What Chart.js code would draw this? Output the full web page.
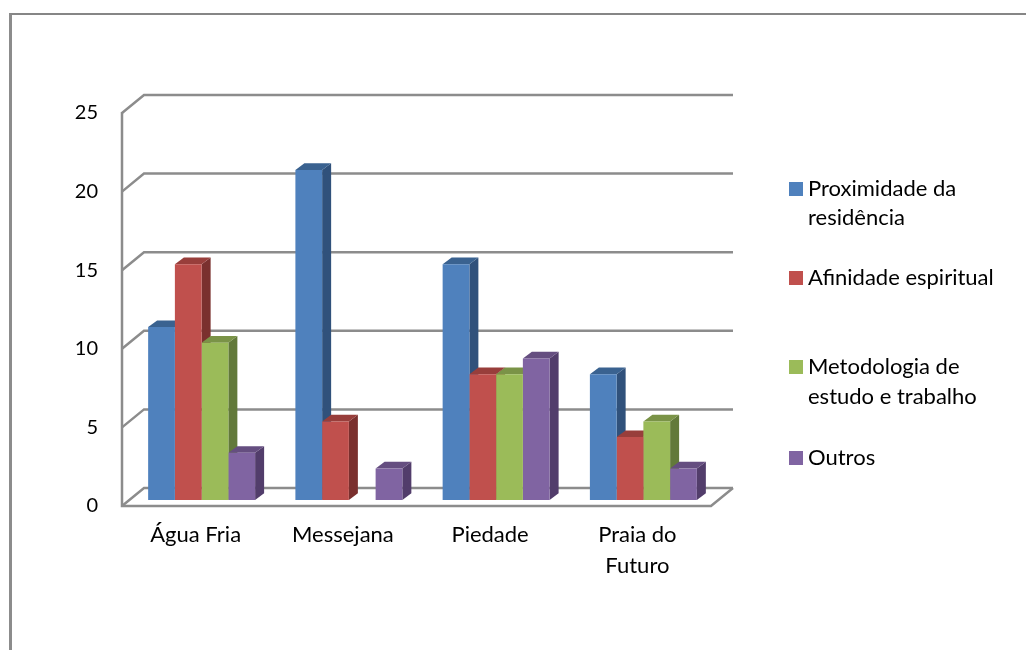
<!DOCTYPE html>
<html>
<head>
<meta charset="utf-8">
<title>Grafico</title>
<script src="https://cdn.jsdelivr.net/npm/chart.js@4"></script>
<style>
    html, body { margin: 0; padding: 0; background: #fff; overflow: hidden; }
    #moldura { position: absolute; left: 9px; top: 13px; width: 1017px; height: 637px; box-sizing: border-box;
               border-left: 3px solid #8c8c8c; border-top: 2px solid #868686; }
    #grafico { position: absolute; left: 0; top: 0; }
</style>
</head>
<body>
<div id="moldura"></div>
<canvas id="grafico" width="1026" height="650"></canvas>
<script>
const categorias = ['Água Fria', 'Messejana', 'Piedade', ['Praia do', 'Futuro']];
const proximidade = [11, 21, 15, 8];
const afinidade = [15, 5, 8, 4];
const metodologia = [10, 0, 8, 5];
const outros = [3, 2, 9, 2];
const nomesSeries = [
    ['Proximidade da', 'residência'],
    ['Afinidade espiritual'],
    ['Metodologia de', 'estudo e trabalho'],
    ['Outros']
];
const ticksY = [0, 5, 10, 15, 20, 25];

const fonte = { family: 'Lato', size: 22 };
const corGrade = '#8c8c8c';

// Cores de cada serie: frente, lado e topo
const coresFrente = ['#4F81BD', '#C0504D', '#9BBB59', '#8064A2'];
const coresLado = ['#30517B', '#7A302E', '#62793A', '#523D6B'];
const coresTopo = ['#3A6290', '#983E3B', '#7A9347', '#654E80'];

// Grade em perspectiva: parede do fundo, diagonais e chao
const grade3d = {
    id: 'grade3d',
    beforeDatasetsDraw(chart) {
        const { ctx, scales: { y }, chartArea: a } = chart;
        ctx.save();
        ctx.strokeStyle = corGrade;
        ctx.lineWidth = 2.5;
        ticksY.forEach(v => {
            const py = y.getPixelForValue(v);
            ctx.beginPath();
            ctx.moveTo(a.left - 6, py + 6);
            ctx.lineTo(a.left + 16, py - 12);
            ctx.lineTo(a.right + 16, py - 12);
            ctx.stroke();
        });
        const y0 = y.getPixelForValue(0);
        ctx.beginPath();
        ctx.moveTo(a.left - 6, y.getPixelForValue(25) + 5);
        ctx.lineTo(a.left - 6, y0 + 6);
        ctx.lineTo(a.right - 6, y0 + 6);
        ctx.lineTo(a.right + 16, y0 - 12);
        ctx.stroke();
        ctx.restore();
    }
};

// Lados e topos das barras, desenhados antes das frentes
const barras3d = {
    id: 'barras3d',
    beforeDatasetsDraw(chart) {
        const { ctx } = chart;
        const dx = 9, dy = 6.7;
        categorias.forEach((_, i) => {
            chart.data.datasets.forEach((ds, d) => {
                if (!ds.data[i]) return;
                const b = chart.getDatasetMeta(d).data[i];
                const dir = b.x + b.width / 2, esq = b.x - b.width / 2;
                ctx.fillStyle = coresLado[d];
                ctx.beginPath();
                ctx.moveTo(dir, b.y);
                ctx.lineTo(dir + dx, b.y - dy);
                ctx.lineTo(dir + dx, b.base - dy);
                ctx.lineTo(dir, b.base);
                ctx.fill();
                ctx.fillStyle = coresTopo[d];
                ctx.beginPath();
                ctx.moveTo(esq, b.y);
                ctx.lineTo(esq + dx, b.y - dy);
                ctx.lineTo(dir + dx, b.y - dy);
                ctx.lineTo(dir, b.y);
                ctx.fill();
            });
        });
    }
};

// Legenda com quebra de linha, como no original
const legenda = {
    id: 'legenda',
    afterDraw(chart) {
        const { ctx } = chart;
        const linhasY = [[189, 218], [278], [367, 397], [458]];
        const marcadorY = [189, 278, 367, 458];
        ctx.save();
        ctx.font = '22px Lato';
        ctx.textBaseline = 'middle';
        nomesSeries.forEach((linhas, d) => {
            ctx.fillStyle = coresFrente[d];
            ctx.fillRect(789, marcadorY[d] - 7, 14, 14);
            ctx.fillStyle = '#000';
            linhas.forEach((t, k) => ctx.fillText(t, 808, linhasY[d][k]));
        });
        ctx.restore();
    }
};

new Chart(document.getElementById('grafico'), {
    type: 'bar',
    data: {
        labels: categorias,
        datasets: [proximidade, afinidade, metodologia, outros].map((valores, d) => ({
            label: nomesSeries[d].join(' '),
            data: valores,
            backgroundColor: coresFrente[d],
            borderWidth: 0
        }))
    },
    options: {
        responsive: false,
        animation: false,
        events: [],
        layout: { padding: { left: 0, right: 309, top: 107, bottom: 0 } },
        categoryPercentage: 0.7264,
        barPercentage: 1,
        scales: {
            x: {
                grid: { display: false, drawTicks: false },
                border: { display: false },
                afterFit: s => { s.height = 150; },
                ticks: {
                    color: '#000',
                    maxRotation: 0,
                    autoSkip: false,
                    padding: 20,
                    labelOffset: -6,
                    font: { ...fonte, lineHeight: 1.4 }
                }
            },
            y: {
                min: 0,
                max: 25,
                grid: { display: false, drawTicks: false },
                border: { display: false },
                afterFit: s => { s.width = 128; },
                afterBuildTicks: s => { s.ticks = ticksY.map(v => ({ value: v })); },
                ticks: {
                    color: '#000',
                    padding: 30,
                    labelOffset: 6,
                    font: { family: 'Lato', size: 20 }
                }
            }
        },
        plugins: {
            legend: { display: false },
            tooltip: { enabled: false }
        }
    },
    plugins: [grade3d, barras3d, legenda]
});
</script>
</body>
</html>
